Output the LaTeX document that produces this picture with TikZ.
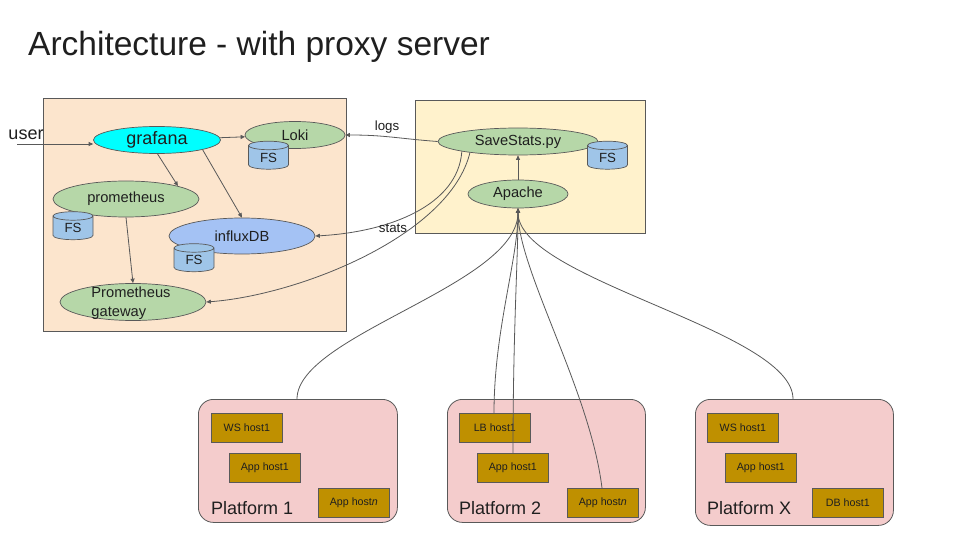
\documentclass[tikz,border=0pt]{standalone}
\usepackage{fontspec}
\setmainfont{Liberation Sans}
\usetikzlibrary{shapes.geometric,arrows.meta}
\definecolor{lnc}{HTML}{595959}
\definecolor{peach}{HTML}{FCE5CD}
\definecolor{cream}{HTML}{FFF2CC}
\definecolor{grn}{HTML}{B6D7A8}
\definecolor{cyanf}{HTML}{00FFFF}
\definecolor{blu}{HTML}{A4C2F4}
\definecolor{fsblue}{HTML}{9FC5E8}
\definecolor{pink}{HTML}{F4CCCC}
\definecolor{gold}{HTML}{BF9000}
\definecolor{txt}{HTML}{1F1F1F}
\tikzset{
  ell/.style={ellipse, draw=lnc, line width=0.7pt, fill=grn, inner sep=0pt, text=txt, font=\fontsize{14.67}{16}\selectfont},
  cyl/.style={cylinder, shape border rotate=90, aspect=0.5, draw=lnc, line width=0.7pt, fill=fsblue, inner sep=0pt, minimum width=40pt, minimum height=28pt, text=txt, font=\fontsize{13.3}{15}\selectfont},
  area/.style={draw=lnc, line width=0.8pt},
  plat/.style={draw=lnc, line width=0.8pt, fill=pink, rounded corners=15pt},
  hostbox/.style={rectangle, draw=lnc, line width=0.7pt, fill=gold, minimum width=71pt, minimum height=29pt, inner sep=0pt, text=txt, font=\fontsize{10.67}{12}\selectfont},
  platlabel/.style={anchor=base west, inner sep=0pt, text=txt, font=\fontsize{18}{20}\selectfont},
  conn/.style={draw=lnc, line width=0.8pt},
  arr/.style={conn, -{Triangle[length=4.5pt,width=4pt]}},
  lbl/.style={inner sep=0pt, text=txt, font=\fontsize{13.3}{15}\selectfont}
}
\begin{document}
\begin{tikzpicture}[x=1pt,y=-1pt]
\useasboundingbox (0,0) rectangle (960,540);
\fill[white] (0,0) rectangle (960,540);

% title
\node[anchor=base west, inner sep=0pt, text=txt, font=\fontsize{33.5}{38}\selectfont] (title) at (28,56) {Architecture - with proxy server};

% boxes
\node[area, fill=peach, rectangle, minimum width=303pt, minimum height=233pt, inner sep=0pt, anchor=north west] (left) at (43,98) {};
\node[area, fill=cream, rectangle, minimum width=230pt, minimum height=133pt, inner sep=0pt, anchor=north west] (right) at (415,100) {};

% left nodes
\node[ell, fill=cyanf, minimum width=127pt, minimum height=27pt, font=\fontsize{18}{20}\selectfont] (grafana) at (157,140) {grafana};
\node[ell, minimum width=100pt, minimum height=27pt] (loki) at (295,135) {Loki};
\node[cyl] (lokifs) at (268.5,157.5) {FS};
\node[ell, minimum width=146pt, minimum height=36pt] (prom) at (126,199) {prometheus};
\node[cyl] (promfs) at (73,228) {FS};
\node[ell, fill=blu, minimum width=146pt, minimum height=36pt] (influx) at (242,236) {influxDB};
\node[cyl] (influxfs) at (194,260) {FS};
\node[ell, minimum width=146pt, minimum height=37pt] (gateway) at (133,302) {};
\node[align=left, inner sep=0pt, text=txt, font=\fontsize{14.67}{19}\selectfont] (gatewaytxt) at (131,303) {Prometheus\\gateway};

% user
\node[inner sep=0pt, text=txt, font=\fontsize{18}{20}\selectfont] (user) at (26,135) {user};
\coordinate (usr) at (17,144);

% right nodes
\node[ell, minimum width=160pt, minimum height=27pt] (save) at (518,141.5) {SaveStats.py};
\node[cyl] (savefs) at (607.5,157.5) {FS};
\node[ell, minimum width=100pt, minimum height=28pt] (apache) at (518,194) {Apache};

% platforms
\node[plat, rectangle, minimum width=199pt, minimum height=123pt, anchor=north west, inner sep=0pt] (p1) at (198,399) {};
\node[plat, rectangle, minimum width=198pt, minimum height=123pt, anchor=north west, inner sep=0pt] (p2) at (447,399) {};
\node[plat, rectangle, minimum width=198pt, minimum height=126pt, anchor=north west, inner sep=0pt] (px) at (695,399) {};
\node[platlabel] (p1l) at (211,514) {Platform 1};
\node[platlabel] (p2l) at (459,514) {Platform 2};
\node[platlabel] (pxl) at (707,514) {Platform X};

% hosts
\node[hostbox, anchor=north west] (ws1) at (211,413) {WS host1};
\node[hostbox, anchor=north west] (app11) at (229,453) {App host1};
\node[hostbox, anchor=north west] (app1n) at (318,488) {App host\textit{n}};
\node[hostbox, anchor=north west] (lb2) at (459,413) {LB host1};
\node[hostbox, anchor=north west] (app21) at (477,453) {App host1};
\node[hostbox, anchor=north west] (app2n) at (567,488) {App host\textit{n}};
\node[hostbox, anchor=north west] (wsx) at (707,413) {WS host1};
\node[hostbox, anchor=north west] (appx1) at (725,453) {App host1};
\node[hostbox, anchor=north west] (dbx) at (812,488) {DB host1};

% arrows left
\draw[arr] (usr) -- (usr -| grafana.west);
\draw[arr] (grafana) -- (loki);
\draw[arr] (grafana.-88) -- (prom.14);
\draw[arr] (grafana.-12) -- (influx.north);
\draw[arr] (prom.south) -- (gateway.north);

% arrows from SaveStats
\draw[arr] (save.west) .. controls +(-40,-3) and +(40,0) .. (loki.east);
\node[lbl] (logs) at (387,127) {logs};
\draw[arr] (save.-170) .. controls (458,205) and (390,232) .. (influx.east);
\node[lbl] (stats) at (393,228) {stats};
\draw[arr] (save.-167) .. controls (450,235) and (300,295) .. (gateway.east);
\draw[arr] (apache.north) -- (save.south);

% connectors from platforms to Apache
\draw[arr] (p1.north -| 297,0) .. controls (297,335) and (518,285) .. (apache.south);
\draw[arr] (lb2.north -| 494,0) .. controls (494,330) and (518,260) .. (apache.south);
\draw[arr] (app21.north -| 513,0) .. controls (513,330) and (518,260) .. (apache.south);
\draw[arr] (app2n.north -| 602,0) .. controls (590,390) and (518,270) .. (apache.south);
\draw[arr] (px.north -| 793,0) .. controls (793,330) and (518,280) .. (apache.south);
\end{tikzpicture}
\end{document}
